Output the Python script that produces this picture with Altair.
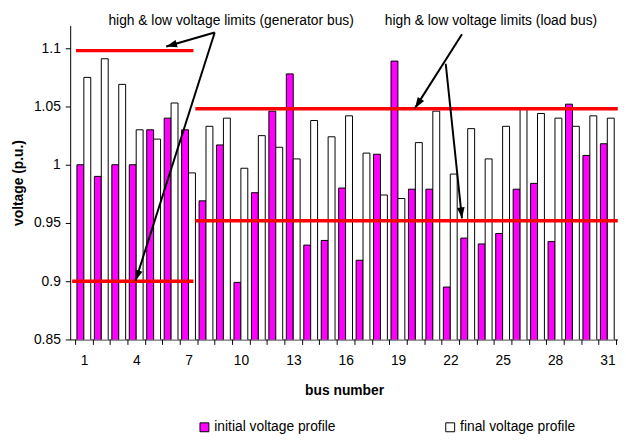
import math
import altair as alt
import pandas as pd

# ---- data ----
bus = list(range(1, 32))
initial = [1.000, 0.990, 1.000, 1.000, 1.030, 1.040, 1.030, 0.969, 1.017, 0.899,
           0.976, 1.046, 1.078, 0.931, 0.935, 0.980, 0.918, 1.009, 1.089, 0.979,
           0.979, 0.895, 0.937, 0.932, 0.941, 0.979, 0.984, 0.934, 1.052, 1.008,
           1.018]
final = [1.075, 1.091, 1.069, 1.030, 1.022, 1.053, 0.993, 1.033, 1.040, 0.997,
         1.025, 1.015, 1.005, 1.038, 1.024, 1.042, 1.010, 0.974, 0.971, 1.019,
         1.046, 0.992, 1.031, 1.005, 1.033, 1.048, 1.044, 1.040, 1.033, 1.042,
         1.040]
series_names = ["initial voltage profile", "final voltage profile"]
series_colors = ["#FF00FF", "#FFFFFF"]

# voltage limit lines (generator buses 1-7, load buses 8-31)
lim_start = [0.55, 0.33, 7.39, 7.39]
lim_end = [7.28, 7.28, 31.6, 31.6]
lim_v = [1.098, 0.900, 1.048, 0.952]

# annotation texts
note_text = ["high & low voltage limits (generator bus)", "high & low voltage limits (load bus)"]
note_x = [9.44, 24.33]
note_v = [1.1237, 1.1237]

# annotation arrows: start point -> tip point (bus, voltage)
arr_x1 = [8.50, 8.50, 22.67, 21.74]
arr_v1 = [1.1136, 1.1136, 1.1121, 1.0867]
arr_x2 = [5.72, 3.96, 19.98, 22.67]
arr_v2 = [1.1015, 0.9003, 1.0486, 0.9540]

# ---- tables ----
rows = []
for b, vi, vf in zip(bus, initial, final):
    rows.append({"bus": b, "series": series_names[0], "voltage": vi})
    rows.append({"bus": b, "series": series_names[1], "voltage": vf})
df = pd.DataFrame(rows)

lim_df = pd.DataFrame({"x1": lim_start, "x2": lim_end, "v": lim_v})
note_df = pd.DataFrame({"x": note_x, "v": note_v, "t": note_text})

PX_X, PX_Y = 18.0, 1180.0  # approx. pixels per unit, used only for arrowhead rotation
angles = []
for x1, v1, x2, v2 in zip(arr_x1, arr_v1, arr_x2, arr_v2):
    dx = (x2 - x1) * PX_X
    dy = -(v2 - v1) * PX_Y
    angles.append(math.degrees(math.atan2(dx, -dy)) % 360)
arr_df = pd.DataFrame({"x1": arr_x1, "v1": arr_v1, "x2": arr_x2, "v2": arr_v2, "angle": angles})

FONT = "Liberation Sans"

x_scale = alt.Scale(domain=[0.5, 31.33], nice=False, zero=False)
y_scale = alt.Scale(domain=[0.85, 1.1195], nice=False, zero=False)

x_axis = alt.Axis(
    values=[i + 0.5 for i in range(0, 32)],
    labelExpr="(datum.value - 0.5) % 3 == 0 ? format(datum.value + 0.5, 'd') : ''",
    labelOffset=9, labelOverlap=False, labelFlush=False, labelBound=False,
    labelPadding=9, titlePadding=17, grid=False,
)
y_axis = alt.Axis(
    values=[0.85, 0.9, 0.95, 1.0, 1.05, 1.1], format=".2~f",
    labelPadding=5, titlePadding=8, grid=False, labelFlush=False,
)

def X(field):
    return alt.X(field, scale=x_scale, axis=x_axis, title="bus number")

def Y(field):
    return alt.Y(field, scale=y_scale, axis=y_axis, title="voltage (p.u.)")

fill_enc = alt.Fill(
    "series:N",
    scale=alt.Scale(domain=series_names, range=series_colors),
    legend=alt.Legend(title=None),
)

base = alt.Chart(df)
bar_i = base.transform_filter(alt.datum.series == series_names[0]).mark_bar(
    width=7, xOffset=-3.5, stroke="black", strokeWidth=1, clip=True
).encode(x=X("bus:Q"), y=Y("voltage:Q"), fill=fill_enc)

bar_f = base.transform_filter(alt.datum.series == series_names[1]).mark_bar(
    width=7, xOffset=3.5, stroke="black", strokeWidth=1, clip=True
).encode(x=X("bus:Q"), y=Y("voltage:Q"), fill=fill_enc)

limits = alt.Chart(lim_df).mark_rule(color="#FF0000", strokeWidth=3.5).encode(
    x=X("x1:Q"), x2="x2:Q", y=Y("v:Q")
)

arrows = alt.Chart(arr_df).mark_rule(color="black", strokeWidth=2).encode(
    x=X("x1:Q"), x2="x2:Q", y=Y("v1:Q"), y2="v2:Q"
)

heads = alt.Chart(arr_df).mark_point(
    shape="M0,0 L0.7,2 L-0.7,2 Z", filled=True, color="black", size=121, opacity=1
).encode(x=X("x2:Q"), y=Y("v2:Q"), angle=alt.Angle("angle:Q", scale=None))

notes = alt.Chart(note_df).mark_text(
    font=FONT, fontSize=14, align="center", baseline="middle", color="black"
).encode(x=X("x:Q"), y=Y("v:Q"), text="t:N")

chart = alt.layer(bar_i, bar_f, limits, arrows, heads, notes).properties(
    width=555, height=318,
    autosize=alt.AutoSizeParams(type="none"),
    padding={"left": 63, "top": 15, "right": 0, "bottom": 93},
).configure_view(strokeWidth=0).configure_axis(
    labelFont=FONT, titleFont=FONT, labelFontSize=14, titleFontSize=14,
    titleFontWeight="bold", labelColor="black", titleColor="black",
    tickColor="black", domainColor="black", tickSize=5,
).configure_legend(
    orient="none", legendX=129, legendY=400, direction="horizontal",
    columnPadding=109, symbolType="square", symbolSize=81,
    symbolStrokeColor="black", symbolStrokeWidth=1,
    labelFont=FONT, labelFontSize=14, labelColor="black", labelOffset=3,
    padding=0,
)

chart.save("out.html", embed_options={"renderer": "svg", "actions": False})
